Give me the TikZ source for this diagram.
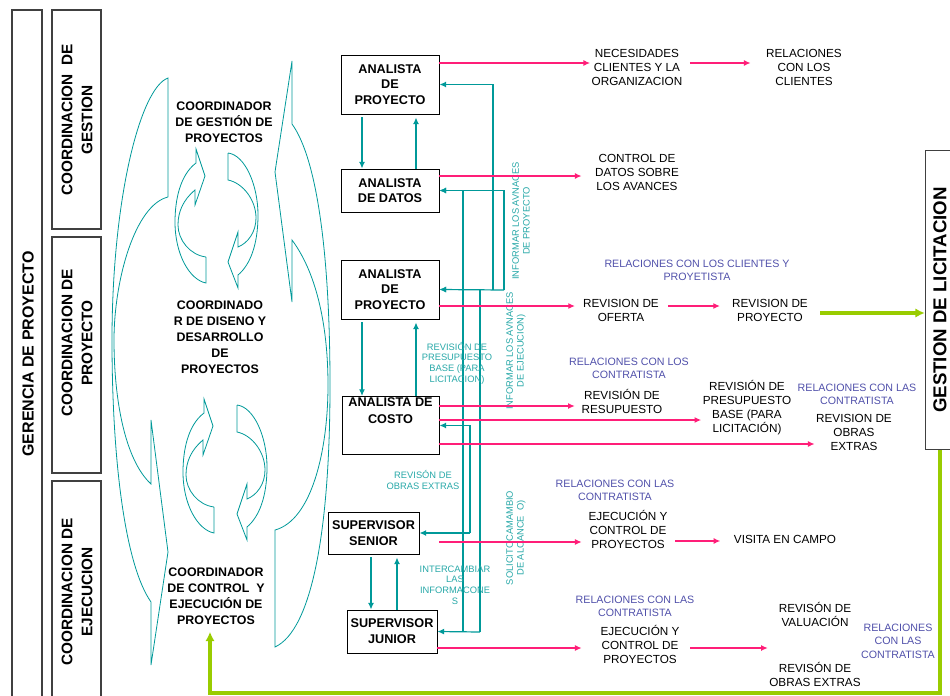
\documentclass[tikz,border=0pt]{standalone}
\usepackage{fontspec}
\setmainfont{Liberation Sans}
\usetikzlibrary{arrows.meta,calc}

\begin{document}
\begin{tikzpicture}[x=0.75pt, y=-0.75pt, >={Latex[length=5pt,width=4.5pt]},
		box/.style={draw, line width=0.7pt, align=center, inner sep=1pt, font=\fontsize{9.5}{11.6}\selectfont\bfseries},
		strip/.style={draw=black!75, line width=0.8pt},
		striptxt/.style={rotate=90, align=center, font=\fontsize{11.5}{15}\selectfont\bfseries},
		coordtxt/.style={align=center, font=\fontsize{9.3}{12}\selectfont\bfseries},
		txt/.style={align=center, inner sep=1pt, font=\fontsize{8.8}{10.5}\selectfont},
		rel/.style={align=center, inner sep=1pt, text=relblue, font=\fontsize{8}{10}\selectfont},
		note/.style={align=center, inner sep=1pt, text=tealtxt, font=\fontsize{7}{8}\selectfont},
		curvarrow/.style={draw=tealc, line width=0.6pt},
		flow/.style={->, draw=tealc, line width=0.9pt},
		pk/.style={->, draw=pinkc, line width=0.9pt},
		gr/.style={draw=greenc, line width=2.6pt, -{Latex[length=7pt,width=7pt]}}]
			\definecolor{tealc}{RGB}{0, 153, 153}
			\definecolor{tealtxt}{RGB}{40, 168, 168}
			\definecolor{pinkc}{RGB}{255, 30, 120}
			\definecolor{relblue}{RGB}{80, 80, 170}
			\definecolor{greenc}{RGB}{153, 204, 0}
			\useasboundingbox (0,0) rectangle (950,696);
			% columnas de la izquierda
			\draw[strip] (12,10) rectangle (42,710);
			\node[striptxt, font=\fontsize{12}{14}\selectfont\bfseries] (ger) at (28,354) {GERENCIA DE PROYECTO};
			\draw[strip] (52,10) rectangle (101,229);
			\node[striptxt] (cg) at (77,120) {COORDINACION\ \ DE\\GESTION};
			\draw[strip] (52,237) rectangle (101,473);
			\node[striptxt] (cp) at (77,343) {COORDINACION DE\\PROYECTO};
			\draw[strip] (52,481) rectangle (101,710);
			\node[striptxt] (ce) at (77,592) {COORDINACION DE\\EJECUCION};
			\node[strip, rotate=90, minimum width=224pt, minimum height=22pt, font=\fontsize{14}{16}\selectfont\bfseries] (lic) at (940,300) {GESTION DE LICITACION};
			% flechas curvas grandes
			\draw[curvarrow] (168,197) -- (168,78)
				.. controls (140,88) and (112,200) .. (112,340)
				.. controls (112,460) and (125,565) .. (151,602)
				-- (151,665) -- (168,552) -- (151,420) -- (151,484)
				.. controls (125,460) and (114,400) .. (114,340)
				.. controls (114,280) and (135,205) .. (168,197);
			\draw[curvarrow] (292,124) -- (292,61) -- (275,172) -- (292,302) -- (292,240)
				.. controls (318,275) and (328,330) .. (328,385)
				.. controls (328,450) and (312,520) .. (275,530)
				-- (275,647)
				.. controls (312,630) and (330,530) .. (330,385)
				.. controls (330,260) and (318,160) .. (292,124);
			% flechas circulares pequenas
			\foreach \dx/\dy in {0/0, 8/250} {
				\begin{scope}[shift={(\dx,\dy)}]
					\draw[curvarrow] (206,257) -- (206,283)
						.. controls (190,280) and (175,255) .. (175,222)
						.. controls (175,200) and (180,175) .. (196,163)
						-- (196,149) -- (205,176) -- (195,205) -- (195,190)
						.. controls (183,200) and (178,212) .. (178,225)
						.. controls (178,240) and (190,255) .. (206,257);
				\end{scope}
			}
			\foreach \dx/\dy in {0/0, 9/252} {
				\begin{scope}[shift={(\dx,\dy)}]
					\draw[curvarrow] (228,153) -- (228,180)
						.. controls (243,183) and (256,200) .. (256,218)
						.. controls (256,232) and (248,243) .. (238,247)
						-- (238,232) -- (228,262) -- (238,288) -- (238,275)
						.. controls (250,265) and (258,245) .. (258,215)
						.. controls (258,185) and (245,155) .. (228,153);
				\end{scope}
			}
			\node[coordtxt] (gc) at (224,122) {COORDINADOR\\DE GESTIÓN DE\\PROYECTOS};
			\node[coordtxt] (dc) at (220,337) {COORDINADO\\R DE DISENO Y\\DESARROLLO\\DE\\PROYECTOS};
			\node[coordtxt] (cc) at (216,596) {COORDINADOR\\DE CONTROL\ \ Y\\EJECUCIÓN DE\\PROYECTOS};
			% cajas
			\node[box, minimum width=73.5pt, minimum height=44.25pt] (ap1) at (390,84.5) {ANALISTA\\DE\\PROYECTO};
			\node[box, minimum width=73.5pt, minimum height=32.25pt, font=\fontsize{9.5}{11}\selectfont\bfseries] (ad) at (390,190.5) {ANALISTA\\DE DATOS};
			\node[box, minimum width=73.5pt, minimum height=44.25pt] (ap2) at (390,289.5) {ANALISTA\\DE\\PROYECTO};
			\node[box, minimum width=72.75pt, minimum height=42.75pt, font=\fontsize{9.5}{12.6}\selectfont\bfseries] (co) at (390.5,425.5) {ANALISTA DE\\COSTO\\[6pt]\strut};
			\node[box, minimum width=68.25pt, minimum height=31.5pt, font=\fontsize{9.5}{12}\selectfont\bfseries] (sr) at (373.5,533) {SUPERVISOR\\SENIOR};
			\node[box, minimum width=67.5pt, minimum height=32.25pt, font=\fontsize{9.5}{12}\selectfont\bfseries] (jr) at (392,631.5) {SUPERVISOR\\JUNIOR};
			\draw[flow] ($(ap1.south)+(-28,3)$) -- ($(ad.north)+(-28,0)$);
			\draw[flow] ($(ad.north)+(26,0)$) -- ($(ap1.south)+(26,3)$);
			\draw[flow] ($(ap2.south)+(-28,3)$) -- ($(co.north)+(-28.5,0)$);
			\draw[flow] ($(co.north)+(25.5,0)$) -- ($(ap2.south)+(26,3)$);
			\draw[flow] ($(sr.south)+(-2.5,3)$) -- ($(jr.north)+(-21,0)$);
			\draw[flow] ($(jr.north)+(5,0)$) -- ($(sr.south)+(23.5,3)$);
			% lineas de informacion
			\coordinate (jA) at (493,290);
			\coordinate (jB) at (504,290);
			\coordinate (jC) at (463,632);
			\coordinate (jD) at (480,632);
			\coordinate (jE) at (470,533);
			\draw[flow] (jA) |- (ap1.east);
			\draw[flow] (jB) |- (ad.east);
			\draw[flow] (jB) -- (ap2.east);
			\draw[flow] (jC) |- (ad.east);
			\draw[flow] (jD) |- (ap2.east);
			\draw[flow] (jD) -- (jr.east);
			\draw[flow] (jE) |- (co.east);
			\draw[flow] (jE) -- (sr.east);
			\node[note] (n1) at (457,363) {REVISIÓN DE\\PRESUPUESTO\\BASE (PARA\\LICITACION)};
			\node[note] (n2) at (423,480) {REVISÓN DE\\OBRAS EXTRAS};
			\node[note] (n3) at (455,585) {INTERCAMBIAR\\LAS\\INFORMACONE\\S};
			\node[note, rotate=90] (n4) at (521,221) {INFORMAR LOS AVNACES\\DE PROYECTO};
			\node[note, rotate=90] (n5) at (516,351) {INFORMAR LOS AVNACES\\DE EJECUCION)};
			\node[note, rotate=90] (n6) at (516,538) {SOLICITOCAMAMBIO\\DE ALCANCE\ \ O)};
			% actividades
			\node[txt] (nec) at (637,67) {NECESIDADES\\CLIENTES Y LA\\ORGANIZACION};
			\node[txt] (rcl) at (804,67) {RELACIONES\\CON LOS\\CLIENTES};
			\node[txt] (ctl) at (637,172) {CONTROL DE\\DATOS SOBRE\\LOS AVANCES};
			\node[txt] (ofe) at (621,310) {REVISION DE\\OFERTA};
			\node[txt] (rpy) at (770,310) {REVISION DE\\PROYECTO};
			\node[txt] (res) at (622,401) {REVISIÓN DE\\RESUPUESTO};
			\node[txt] (pre) at (747,408) {REVISIÓN DE\\PRESUPUESTO\\BASE (PARA\\LICITACIÓN)};
			\node[txt] (obr) at (854,432) {REVISION DE\\OBRAS\\EXTRAS};
			\node[txt] (ej1) at (628,529) {EJECUCIÓN Y\\CONTROL DE\\PROYECTOS};
			\node[txt] (vis) at (785,539) {VISITA EN CAMPO};
			\node[txt] (ej2) at (640,644) {EJECUCIÓN Y\\CONTROL DE\\PROYECTOS};
			\node[txt] (val) at (815,644) {REVISÓN DE\\VALUACIÓN\\[24pt]REVISÓN DE\\OBRAS EXTRAS};
			\node[rel] (r1) at (697,270) {RELACIONES CON LOS CLIENTES Y\\PROYETISTA};
			\node[rel] (r2) at (629,368) {RELACIONES CON LOS\\CONTRATISTA};
			\node[rel] (r3) at (857,394) {RELACIONES CON LAS\\CONTRATISTA};
			\node[rel] (r4) at (615,490) {RELACIONES CON LAS\\CONTRATISTA};
			\node[rel] (r5) at (635,606) {RELACIONES CON LAS\\CONTRATISTA};
			\node[rel] (r6) at (898,641) {RELACIONES\\CON LAS\\CONTRATISTA};
			\draw[pk] (ap1.east |- 0,63) -- (nec.west |- 0,63);
			\draw[pk, shorten <=4.5pt, shorten >=10.5pt] (nec.east |- 0,63) -- (rcl.west |- 0,63);
			\draw[pk, shorten >=9pt] (ad.east |- 0,176) -- (ctl.west |- 0,176);
			\draw[pk, shorten >=5pt] (ap2.east |- 0,306) -- (ofe.west |- 0,306);
			\draw[pk, shorten <=6pt, shorten >=8pt] (ofe.east |- 0,306) -- (rpy.west |- 0,306);
			\draw[gr, shorten <=8pt] (rpy.east |- 0,313) -- (lic.north |- 0,313);
			\draw[pk, shorten >=4pt] (co.east |- 0,406) -- (res.west |- 0,406);
			\draw[pk] (co.east |- 0,420) -- (pre.west |- 0,420);
			\draw[pk] (co.east |- 0,444) -- (obr.west |- 0,444);
			\draw[pk, shorten <=15pt, shorten >=4pt] (sr.east |- 0,542) -- (ej1.west |- 0,542);
			\draw[pk, shorten <=4.5pt, shorten >=9pt] (ej1.east |- 0,541) -- (vis.west |- 0,541);
			\draw[pk, shorten >=13pt] (jr.east |- 0,648) -- (ej2.west |- 0,648);
			\draw[pk, shorten <=7pt] (ej2.east |- 0,648) -- (val.west |- 0,648);
			% retorno a control y ejecucion
			\coordinate (gk) at (210,693);
			\draw[gr, shorten >=2pt] (lic.west) |- (gk) -- (cc.south -| gk);
		\end{tikzpicture}
\end{document}
